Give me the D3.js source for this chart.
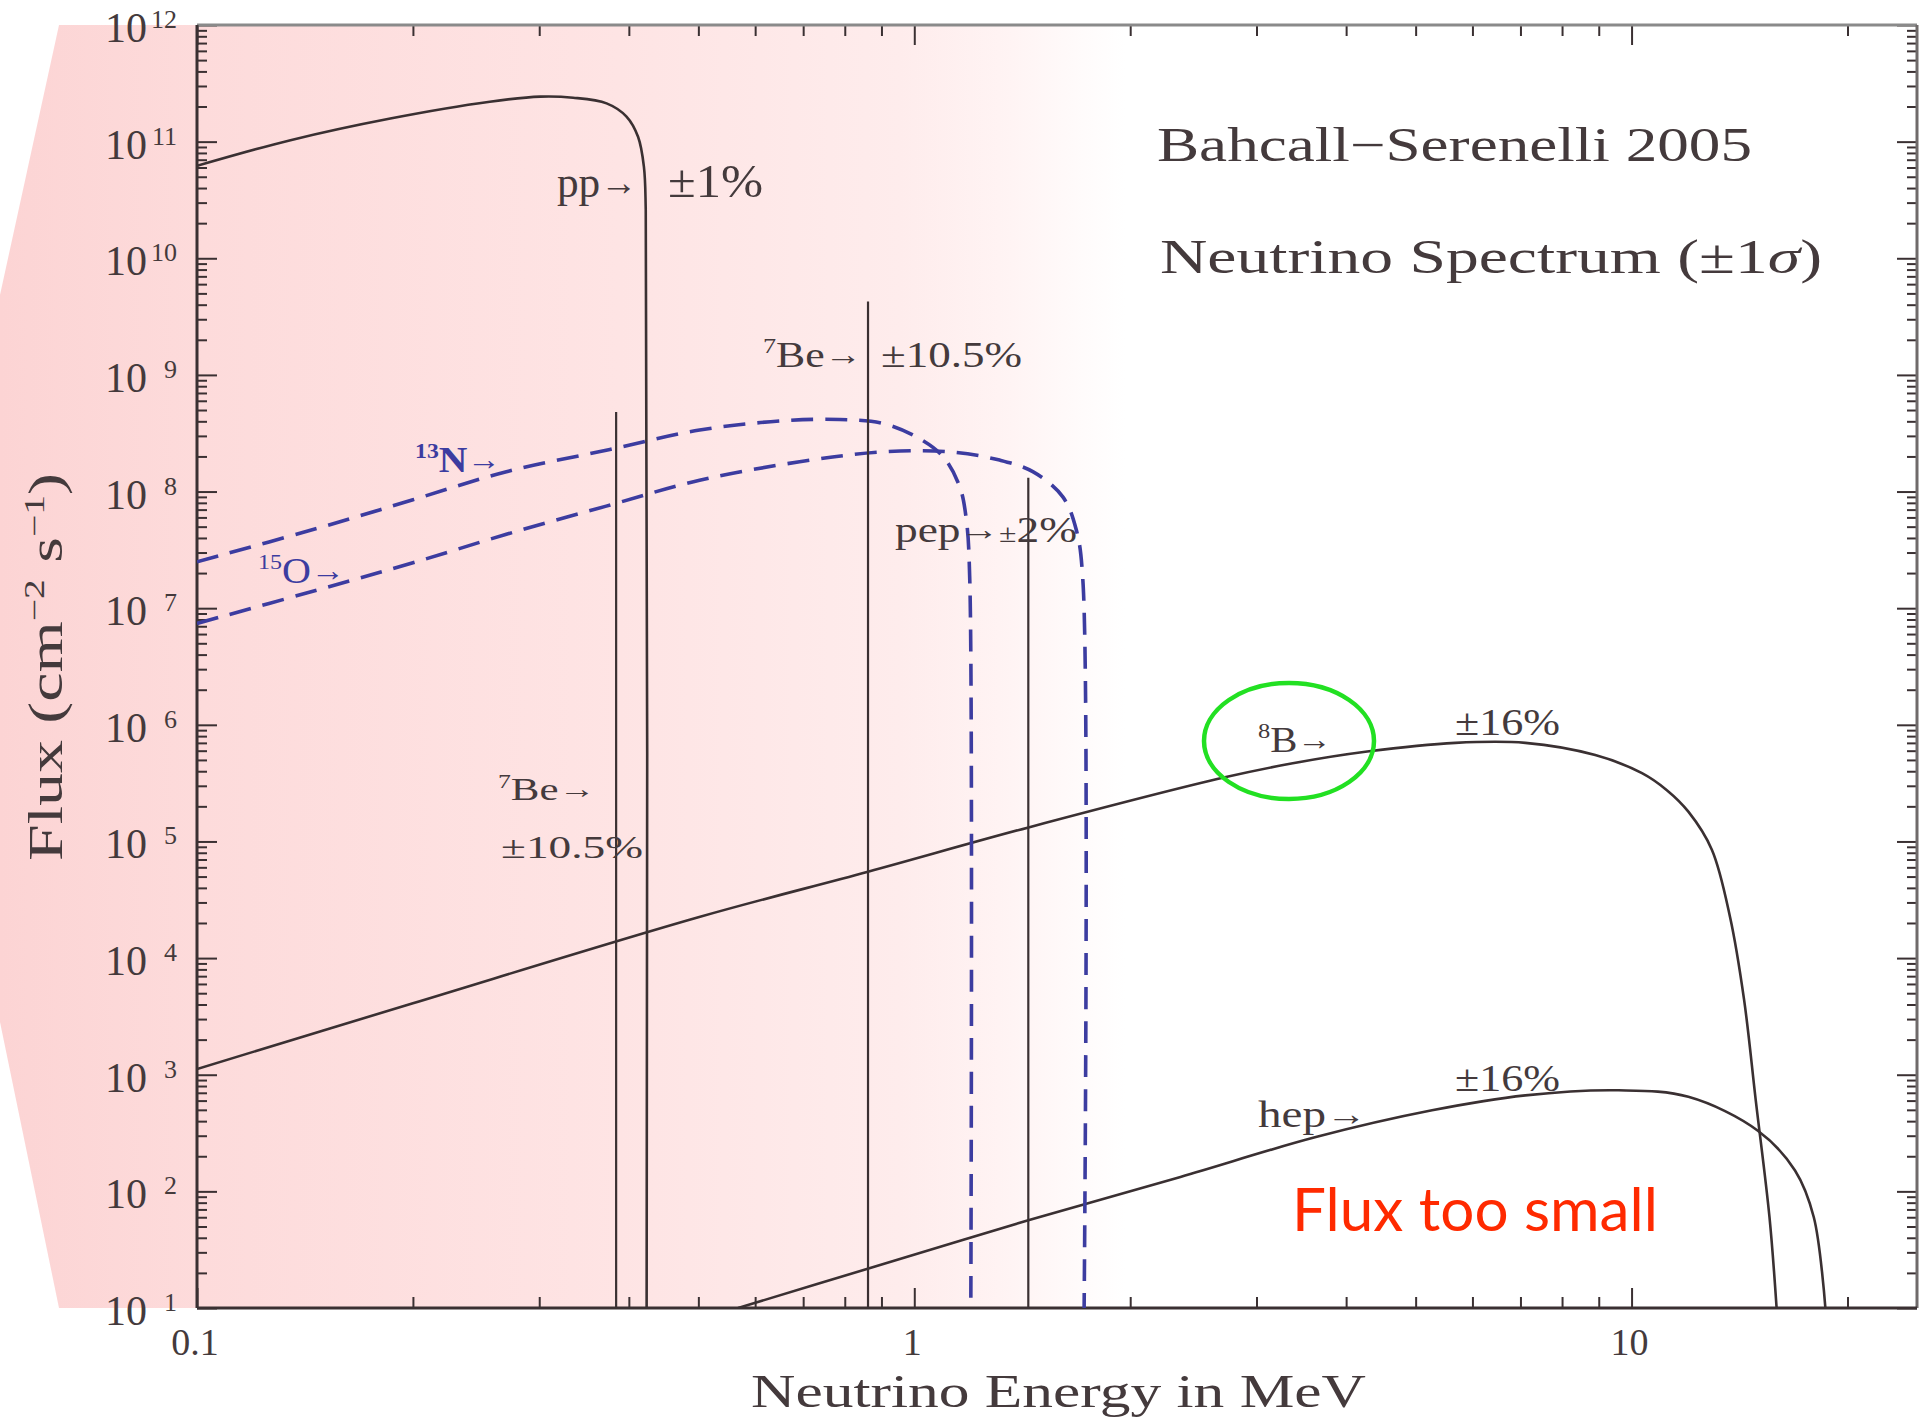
<!DOCTYPE html>
<html>
<head>
<meta charset="utf-8">
<script src="https://cdn.jsdelivr.net/npm/d3@7"></script>
<style>
  body { margin: 0; background: #fff; }
  svg { display: block; }
</style>
</head>
<body>
<div id="chart"></div>
<script>
// --- data (E in MeV, flux in cm^-2 s^-1) ---
const ppE    = [0.1, 0.135, 0.186, 0.256, 0.301, 0.3345, 0.3724, 0.397, 0.412, 0.4198, 0.4223, 0.4235];
const ppFlux = [6.2e10, 1.03e11, 1.58e11, 2.2e11, 2.43e11, 2.38e11, 2.13e11, 1.64e11, 1.1e11, 6.1e10, 2.6e10, 10];

const n13E    = [0.1, 0.15, 0.2, 0.27, 0.372, 0.502, 0.656, 0.787, 0.904, 1.007, 1.096, 1.157, 1.182, 1.195, 1.199];
const n13Flux = [2.5e7, 5.0e7, 8.5e7, 1.48e8, 2.26e8, 3.37e8, 4.04e8, 4.15e8, 3.84e8, 2.94e8, 2.0e8, 1.1e8, 5.7e7, 1.74e7, 10];

const o15E    = [0.1, 0.15, 0.2, 0.27, 0.372, 0.502, 0.692, 0.904, 1.12, 1.315, 1.463, 1.611, 1.682, 1.718, 1.725];
const o15Flux = [7.4e6, 1.48e7, 2.45e7, 4.3e7, 7.5e7, 1.25e8, 1.8e8, 2.19e8, 2.19e8, 1.86e8, 1.48e8, 9.0e7, 4.7e7, 1.74e7, 10];

const b8E    = [0.1, 0.2, 0.5, 0.862, 1.443, 2.71, 3.37, 4.28, 5.68, 7.11, 8.9, 10.34, 11.2, 12.0, 12.94, 13.72, 14.35, 14.9, 15.57, 15.93];
const b8Flux = [1.12e3, 4.1e3, 2.24e4, 5.5e4, 1.32e5, 3.55e5, 4.68e5, 5.9e5, 7.0e5, 7.0e5, 5.5e5, 3.85e5, 2.75e5, 1.8e5, 8.5e4, 2.24e4, 4.4e3, 600, 60, 10];

const hepE    = [0.568, 0.861, 1.442, 2.35, 3.63, 5.27, 7.11, 9.59, 12.0, 15.0, 16.9, 17.95, 18.63];
const hepFlux = [10, 21.7, 56.5, 133, 292, 495, 665, 735, 646, 331, 151, 60, 10];

// line sources: energy and flux
const lineE    = [0.384, 0.862, 1.442];
const lineFlux = [4.8e8, 4.25e9, 1.31e8];

const xMajor = [0.1, 1, 10];
const xMajorLabels = ["0.1", "1", "10"];
const yExponents = [1, 2, 3, 4, 5, 6, 7, 8, 9, 10, 11, 12];

// --- layout ---
const W = 1930, H = 1417;
const plot = { left: 197, right: 1917, top: 25, bottom: 1308 };
const ink = "#3a3032";
const textInk = "#443a3c";
const blue = "#3c3ca0";
const serif = "'Liberation Serif', 'DejaVu Serif', serif";

const svg = d3.select("#chart").append("svg")
  .attr("width", W).attr("height", H);

const x = d3.scaleLog().domain([0.1, 25]).range([plot.left, plot.right]);
const y = d3.scaleLog().domain([10, 1e12]).range([plot.bottom, plot.top]);

// pink fading background
const defs = svg.append("defs");
const grad = defs.append("linearGradient")
  .attr("id", "pinkFade")
  .attr("gradientUnits", "userSpaceOnUse")
  .attr("x1", 0).attr("x2", 1125).attr("y1", 0).attr("y2", 0);
[[0, "#fcd4d4"], [0.18, "#fddbdb"], [0.55, "#fee4e4"], [0.8, "#feecec"], [0.9, "#fff4f4"], [1, "#ffffff"]]
  .forEach(s => grad.append("stop").attr("offset", s[0]).attr("stop-color", s[1]));

defs.append("clipPath").attr("id", "plotClip")
  .append("rect")
  .attr("x", plot.left).attr("y", plot.top)
  .attr("width", plot.right - plot.left).attr("height", plot.bottom - plot.top);

svg.append("polygon")
  .attr("points", [
    [59, plot.top], [0, 295], [0, 1022], [59, plot.bottom],
    [plot.right, plot.bottom], [plot.right, plot.top]
  ].map(p => p.join(",")).join(" "))
  .attr("fill", "url(#pinkFade)");

// --- ticks ---
const yMinor = [];
yExponents.slice(0, -1).forEach(e => { for (let k = 2; k <= 9; k++) yMinor.push(k * Math.pow(10, e)); });
const xMinor = [0.2, 0.3, 0.4, 0.5, 0.6, 0.7, 0.8, 0.9, 2, 3, 4, 5, 6, 7, 8, 9, 20];
const yMajor = yExponents.map(e => Math.pow(10, e));

function tickAxis(axis, vals, size, tr) {
  const g = svg.append("g").attr("transform", tr)
    .call(axis.tickValues(vals).tickSize(size).tickSizeOuter(0).tickFormat(""));
  g.select(".domain").remove();
  g.selectAll(".tick line").attr("stroke", ink).attr("stroke-width", 2);
}
tickAxis(d3.axisRight(y), yMajor, 20, `translate(${plot.left},0)`);
tickAxis(d3.axisRight(y), yMinor, 10, `translate(${plot.left},0)`);
tickAxis(d3.axisLeft(y), yMajor, 20, `translate(${plot.right},0)`);
tickAxis(d3.axisLeft(y), yMinor, 10, `translate(${plot.right},0)`);
tickAxis(d3.axisTop(x), xMajor, 20, `translate(0,${plot.bottom})`);
tickAxis(d3.axisTop(x), xMinor, 11, `translate(0,${plot.bottom})`);
tickAxis(d3.axisBottom(x), xMajor, 20, `translate(0,${plot.top})`);
tickAxis(d3.axisBottom(x), xMinor, 11, `translate(0,${plot.top})`);

// frame
svg.append("line").attr("x1", plot.left).attr("x2", plot.right).attr("y1", plot.top).attr("y2", plot.top)
  .attr("stroke", "#8a8a8a").attr("stroke-width", 3);
svg.append("line").attr("x1", plot.right).attr("x2", plot.right).attr("y1", plot.top).attr("y2", plot.bottom)
  .attr("stroke", "#6f6a6a").attr("stroke-width", 3);
svg.append("line").attr("x1", plot.left).attr("x2", plot.left).attr("y1", plot.top).attr("y2", plot.bottom)
  .attr("stroke", ink).attr("stroke-width", 3);
svg.append("line").attr("x1", plot.left).attr("x2", plot.right).attr("y1", plot.bottom).attr("y2", plot.bottom)
  .attr("stroke", ink).attr("stroke-width", 3);

// y tick labels 10^n
const yl = svg.append("g").attr("font-family", serif).attr("fill", textInk);
yExponents.forEach(e => {
  yl.append("text").attr("x", 147).attr("y", y(Math.pow(10, e)) + 17)
    .attr("text-anchor", "end").attr("font-size", 42).text("10");
  yl.append("text").attr("x", 177).attr("y", y(Math.pow(10, e)) + 3)
    .attr("text-anchor", "end").attr("font-size", 26).text(e);
});
// x tick labels
xMajor.forEach((v, i) => {
  svg.append("text").attr("x", x(v) - 2).attr("y", 1355)
    .attr("text-anchor", "middle").attr("font-family", serif).attr("font-size", 38)
    .attr("fill", textInk).text(xMajorLabels[i]);
});

// --- curves ---
const line = d3.line().x(d => x(d[0])).y(d => y(d[1])).curve(d3.curveCatmullRom.alpha(0.5));
const curves = svg.append("g").attr("clip-path", "url(#plotClip)").attr("fill", "none");

[[ppE, ppFlux], [b8E, b8Flux], [hepE, hepFlux]].forEach(([es, fs]) => {
  curves.append("path").datum(es.map((e, i) => [e, fs[i]]))
    .attr("d", line).attr("stroke", ink).attr("stroke-width", 2.6);
});
[[n13E, n13Flux], [o15E, o15Flux]].forEach(([es, fs]) => {
  curves.append("path").datum(es.map((e, i) => [e, fs[i]]))
    .attr("d", line).attr("stroke", blue).attr("stroke-width", 3.6)
    .attr("stroke-dasharray", "22,12");
});
curves.selectAll("line.src").data(lineE.map((e, i) => [e, lineFlux[i]])).enter()
  .append("line").attr("class", "src")
  .attr("x1", d => x(d[0])).attr("x2", d => x(d[0]))
  .attr("y1", d => y(d[1])).attr("y2", y(10))
  .attr("stroke", ink).attr("stroke-width", 2.2);

// --- annotations ---
function label(x0, y0, parts, opt) {
  const t = svg.append("text").attr("x", x0).attr("y", y0)
    .attr("font-family", opt.font || serif)
    .attr("font-size", opt.size)
    .attr("font-weight", opt.weight || "normal")
    .attr("fill", opt.color || textInk);
  if (opt.width) t.attr("textLength", opt.width).attr("lengthAdjust", "spacingAndGlyphs");
  let shift = 0;
  parts.forEach(p => {
    const [txt, kind] = Array.isArray(p) ? p : [p, ""];
    const s = t.append("tspan").text(txt);
    let target = 0;
    if (kind === "sup") { s.attr("font-size", opt.size * 0.6); target = -opt.size * 0.38; }
    if (kind === "arrow") { s.attr("font-size", opt.size * 0.85); target = -opt.size * 0.05; }
    if (kind === "small") { s.attr("font-size", opt.size * 0.7); }
    if (kind === "ital") { s.attr("font-style", "italic"); }
    s.attr("dy", target - shift);
    shift = target;
  });
  return t;
}

label(557, 197, ["pp", ["→", "arrow"]], { size: 44, width: 80 });
label(668, 197, ["±1%"], { size: 46, width: 95 });
label(763, 367, [["7", "sup"], "Be", ["→", "arrow"]], { size: 36, width: 99 });
label(881, 367, ["±10.5%"], { size: 36, width: 141 });
label(895, 542, ["pep", ["→", "arrow"], ["±", "small"], "2%"], { size: 36, width: 182 });
label(415, 472, [["13", "sup"], "N", ["→", "arrow"]], { size: 36, width: 86, color: blue, weight: "bold" });
label(258, 583, [["15", "sup"], "O", ["→", "arrow"]], { size: 36, width: 87, color: blue });
label(498, 800, [["7", "sup"], "Be", ["→", "arrow"]], { size: 32, width: 97 });
label(501, 858, ["±10.5%"], { size: 32, width: 142 });
label(1258, 752, [["8", "sup"], "B", ["→", "arrow"]], { size: 36, width: 74 });
label(1455, 735, ["±16%"], { size: 38, width: 105 });
label(1455, 1091, ["±16%"], { size: 38, width: 105 });
label(1258, 1127, ["hep", ["→", "arrow"]], { size: 38, width: 108 });

label(1157, 161, ["Bahcall−Serenelli 2005"], { size: 48, width: 595 });
label(1160, 273, ["Neutrino Spectrum (±1", ["σ", "ital"], ")"], { size: 48, width: 662 });

label(751, 1407, ["Neutrino Energy in MeV"], { size: 46, width: 615 });

const yt = label(0, 0, ["Flux (cm", ["−2", "sup"], " s", ["−1", "sup"], ")"], { size: 48, width: 388 });
yt.attr("text-anchor", "start")
  .attr("transform", `translate(62, ${667 + 194}) rotate(-90)`);

label(1292, 1231, ["Flux too small"],
  { size: 60, width: 366, color: "#ff2a00", font: "Lato, 'Open Sans', sans-serif" });

svg.append("ellipse")
  .attr("cx", 1289).attr("cy", 741).attr("rx", 85).attr("ry", 58)
  .attr("fill", "none").attr("stroke", "#22e022").attr("stroke-width", 4.5);
</script>
</body>
</html>
